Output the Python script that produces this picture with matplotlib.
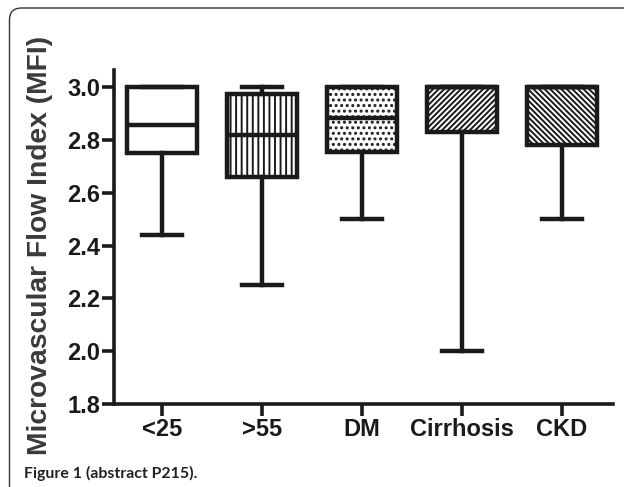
import matplotlib
matplotlib.use('Agg')
import matplotlib.pyplot as plt
import matplotlib.patches as mpatches
from matplotlib.transforms import IdentityTransform

# Box plot values
groups = ['<25', '>55', 'DM', 'Cirrhosis', 'CKD']
whisker_low = [2.44, 2.25, 2.50, 2.00, 2.50]
q1 = [2.75, 2.66, 2.755, 2.83, 2.78]
median = [2.855, 2.82, 2.885, 3.00, 3.00]
q3 = [3.00, 2.975, 3.00, 3.00, 3.00]
whisker_high = [3.00, 3.00, 3.00, 3.00, 3.00]
hatches = ['', '|||', '...', '//////', '\\\\\\\\\\\\']

plt.rcParams['font.family'] = ['Liberation Sans', 'DejaVu Sans']
plt.rcParams['hatch.linewidth'] = 1.4
plt.rcParams['hatch.color'] = '#1a1a1a'

fig = plt.figure(figsize=(6.24, 4.87), dpi=100)
ax = fig.add_axes([0.1827, 0.1704, 0.7997, 0.6859])

stats = []
for i, g in enumerate(groups):
    stats.append({'label': g, 'whislo': whisker_low[i], 'q1': q1[i], 'med': median[i],
                  'q3': q3[i], 'whishi': whisker_high[i], 'fliers': []})

positions = list(range(1, len(groups) + 1))
lw = 3.2
bp = ax.bxp(stats, positions=positions, widths=0.7, capwidths=0.4, patch_artist=True,
            showfliers=False,
            boxprops=dict(linewidth=lw, edgecolor='#1a1a1a', facecolor='white'),
            whiskerprops=dict(linewidth=lw, color='#1a1a1a'),
            capprops=dict(linewidth=lw, color='#1a1a1a'),
            medianprops=dict(linewidth=lw, color='#1a1a1a'))
for box, h in zip(bp['boxes'], hatches):
    box.set_hatch(h)

ax.set_xlim(0.52, 5.51)
ax.set_ylim(1.8, 3.065)
ax.set_yticks([1.8, 2.0, 2.2, 2.4, 2.6, 2.8, 3.0])
ax.set_yticklabels(['1.8', '2.0', '2.2', '2.4', '2.6', '2.8', '3.0'])
ax.set_xticks(positions)
ax.set_xticklabels(groups)

for side in ['top', 'right']:
    ax.spines[side].set_visible(False)
for side in ['left', 'bottom']:
    ax.spines[side].set_linewidth(2.6)
    ax.spines[side].set_color('#1a1a1a')
ax.tick_params(axis='both', direction='out', length=8.5, width=2.6, color='#1a1a1a',
               labelsize=17, labelcolor='#1a1a1a', pad=1.5)
for t in ax.get_xticklabels() + ax.get_yticklabels():
    t.set_fontweight('bold')

fig.text(40 / 624, 1 - 245 / 487, 'Microvascular Flow Index (MFI)', rotation=90,
         ha='center', va='center', fontsize=20.3, fontweight='bold', color='#3a3a3a')

# rounded panel border and caption
border = mpatches.FancyBboxPatch((9.5, -40), 700, 519,
                                 boxstyle='round,pad=0,rounding_size=12',
                                 transform=IdentityTransform(), facecolor='none',
                                 edgecolor='#333333', linewidth=1.0)
fig.patches.append(border)
fig.text(24 / 624, 1 - 478 / 487, 'Figure 1 (abstract P215).', ha='left', va='baseline',
         fontsize=11.4, fontweight='bold', color='#222222', family=['Lato', 'DejaVu Sans'])

fig.savefig('out.png', dpi=100)
